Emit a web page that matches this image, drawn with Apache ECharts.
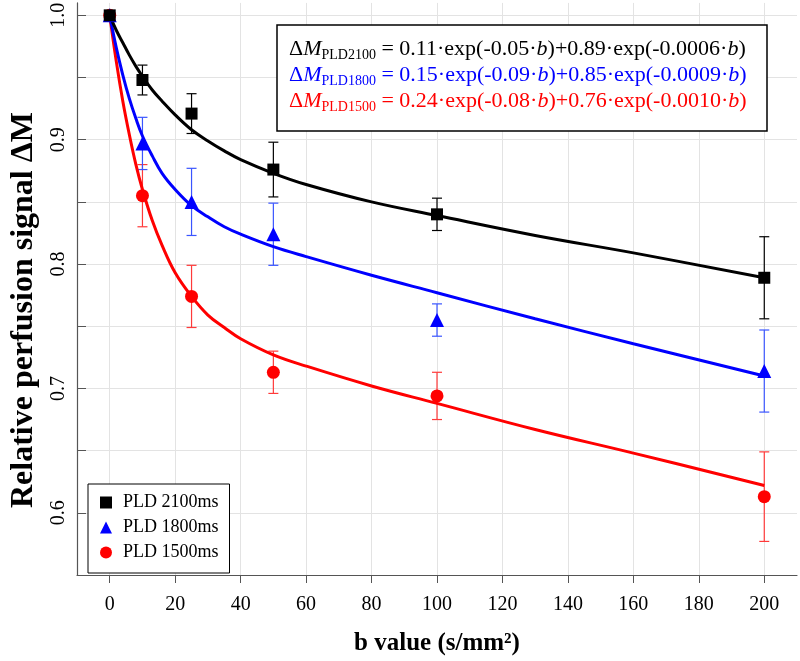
<!DOCTYPE html>
<html>
<head>
<meta charset="UTF-8">
<title>Relative perfusion signal</title>
<script src="https://cdn.jsdelivr.net/npm/echarts@6/dist/echarts.min.js"></script>
<style>
html, body { margin: 0; padding: 0; background: #fff; }
#main { width: 800px; height: 661px; }
</style>
</head>
<body>
<div id="main"></div>
<script>
// measured points (b value, mean, +/- error)
var bValues = [0, 10, 25, 50, 100, 200];
var mean2100 = [1.000, 0.948, 0.921, 0.876, 0.840, 0.789];
var err2100 = [0, 0.012, 0.016, 0.022, 0.013, 0.033];
var mean1800 = [1.000, 0.897, 0.850, 0.824, 0.755, 0.714];
var err1800 = [0, 0.021, 0.027, 0.025, 0.013, 0.033];
var mean1500 = [1.000, 0.855, 0.774, 0.713, 0.694, 0.613];
var err1500 = [0, 0.025, 0.025, 0.017, 0.019, 0.036];

// fitted curves
var fitB = [0, 2, 4, 6, 8, 10, 13, 16, 20, 25, 30, 35, 40, 50, 60, 80, 100, 130, 160, 200];
var fit2100 = [1.000, 0.988, 0.978, 0.968, 0.959, 0.951, 0.940, 0.931, 0.920, 0.908, 0.899, 0.891, 0.884, 0.873, 0.864, 0.850, 0.839, 0.823, 0.809, 0.789];
var fit1800 = [1.000, 0.974, 0.952, 0.933, 0.917, 0.903, 0.887, 0.873, 0.860, 0.847, 0.838, 0.830, 0.824, 0.814, 0.806, 0.791, 0.777, 0.756, 0.736, 0.710];
var fit1500 = [1.000, 0.963, 0.931, 0.904, 0.880, 0.860, 0.835, 0.815, 0.793, 0.774, 0.759, 0.749, 0.740, 0.727, 0.718, 0.702, 0.688, 0.667, 0.648, 0.622];

var xTicks = [0, 20, 40, 60, 80, 100, 120, 140, 160, 180, 200];
var yTicks = [0.55, 0.6, 0.65, 0.7, 0.75, 0.8, 0.85, 0.9, 0.95, 1.0];
var yLabels = [0.6, 0.7, 0.8, 0.9, 1.0];

var names = ['PLD 2100ms', 'PLD 1800ms', 'PLD 1500ms'];
var colors = ['#000000', '#0000ff', '#ff0000'];
var barColors = ['#000000', '#3a55ff', '#ff3a3a'];
var serif = 'Liberation Serif';

function pairs(xs, ys) {
	var out = [];
	for (var i = 0; i < xs.length; i++) out.push([xs[i], ys[i]]);
	return out;
}
function bars(xs, m, e) {
	var out = [];
	for (var i = 0; i < xs.length; i++) out.push([xs[i], m[i] - e[i], m[i] + e[i]]);
	return out;
}
function errorBar(color) {
	return function (params, api) {
		var x = api.value(0), lo = api.value(1), hi = api.value(2);
		if (hi - lo < 1e-6) return;
		var p1 = api.coord([x, hi]), p2 = api.coord([x, lo]);
		var w = 5;
		var st = { stroke: color, lineWidth: 1.2 };
		return {
			type: 'group',
			children: [
				{ type: 'line', shape: { x1: p1[0], y1: p1[1], x2: p2[0], y2: p2[1] }, style: st },
				{ type: 'line', shape: { x1: p1[0] - w, y1: p1[1], x2: p1[0] + w, y2: p1[1] }, style: st },
				{ type: 'line', shape: { x1: p2[0] - w, y1: p2[1], x2: p2[0] + w, y2: p2[1] }, style: st }
			]
		};
	};
}

// equation text lines
function eqRich(color) {
	return {
		d: { fontFamily: serif, fontSize: 22, fill: color, lineHeight: 26 },
		m: { fontFamily: serif, fontSize: 22, fontStyle: 'italic', fill: color, lineHeight: 26 },
		s: { fontFamily: serif, fontSize: 14, fill: color, lineHeight: 14, verticalAlign: 'bottom' },
		n: { fontFamily: serif, fontSize: 22, fill: color, lineHeight: 26 },
		i: { fontFamily: serif, fontSize: 22, fontStyle: 'italic', fill: color, lineHeight: 26 }
	};
}
var eqTexts = [
	'{d|Δ}{m|M}{s|PLD2100}{n| = 0.11·exp(-0.05·}{i|b}{n|)+0.89·exp(-0.0006·}{i|b}{n|)}',
	'{d|Δ}{m|M}{s|PLD1800}{n| = 0.15·exp(-0.09·}{i|b}{n|)+0.85·exp(-0.0009·}{i|b}{n|)}',
	'{d|Δ}{m|M}{s|PLD1500}{n| = 0.24·exp(-0.08·}{i|b}{n|)+0.76·exp(-0.0010·}{i|b}{n|)}'
];
var eqY = [49, 75, 101];

var graphics = [{
	type: 'rect', z: 100,
	shape: { x: 277, y: 25, width: 490, height: 106 },
	style: { fill: '#fff', stroke: '#000', lineWidth: 1.5 }
}];
for (var k = 0; k < 3; k++) {
	graphics.push({
		type: 'text', z: 101, x: 289, y: eqY[k],
		style: { text: eqTexts[k], rich: eqRich(colors[k]), align: 'left', verticalAlign: 'middle' }
	});
}
// y axis title
graphics.push({
	type: 'text', z: 101, x: 24, y: 310, rotation: Math.PI / 2,
	style: {
		text: 'Relative perfusion signal ΔM', fill: '#000',
		font: 'bold 32px "Liberation Serif"', align: 'center', verticalAlign: 'middle'
	}
});

var chart = echarts.init(document.getElementById('main'));

var series = [];
var means = [mean2100, mean1800, mean1500];
var errs = [err2100, err1800, err1500];
var fits = [fit2100, fit1800, fit1500];
var symbols = ['rect', 'triangle', 'circle'];
var sizes = [12, 14, 13];
for (var s = 2; s >= 0; s--) {
	series.push({
		name: names[s] + ' err', type: 'custom', z: 2,
		renderItem: errorBar(barColors[s]),
		encode: { x: 0, y: [1, 2] },
		data: bars(bValues, means[s], errs[s])
	});
	series.push({
		name: names[s] + ' fit', type: 'line', z: 3,
		showSymbol: false, silent: true,
		smooth: 0.4,
		lineStyle: { color: colors[s], width: 3 },
		data: pairs(fitB, fits[s])
	});
}
for (var s2 = 2; s2 >= 0; s2--) {
	series.push({
		name: names[s2], type: 'scatter', z: 5,
		symbol: symbols[s2], symbolSize: sizes[s2],
		itemStyle: { color: colors[s2], opacity: 1 },
		data: pairs(bValues, means[s2])
	});
}

var option = {
	backgroundColor: '#fff',
	animation: false,
	grid: { left: 77, right: 3, top: 1, bottom: 79 },
	xAxis: {
		type: 'value', min: -10, max: 210,
		name: 'b value (s/mm²)', nameLocation: 'middle', nameGap: 56,
		nameTextStyle: { fontFamily: serif, fontWeight: 'bold', fontSize: 25, color: '#000' },
		axisLine: { onZero: false, lineStyle: { color: '#555', width: 1.2 } },
		axisTick: { customValues: xTicks, length: 8, lineStyle: { color: '#555' } },
		axisLabel: { customValues: xTicks, margin: 20, fontFamily: serif, fontSize: 20, color: '#000' },
		splitLine: { show: true, lineStyle: { color: '#e3e3e3', width: 1 } }
	},
	yAxis: {
		type: 'value', min: 0.55, max: 1.01,
		axisLine: { show: true, onZero: false, lineStyle: { color: '#555', width: 1.2 } },
		axisTick: { customValues: yTicks, inside: true, length: 9, lineStyle: { color: '#555' } },
		axisLabel: {
			customValues: yLabels, rotate: 90, margin: 8,
			fontFamily: serif, fontSize: 20, color: '#000',
			formatter: function (v) { return v.toFixed(1); }
		},
		splitLine: { show: true, lineStyle: { color: '#e3e3e3', width: 1 } }
	},
	legend: {
		orient: 'vertical', left: 88, top: 484,
		data: [
			{ name: names[0], icon: 'rect' },
			{ name: names[1], icon: 'triangle' },
			{ name: names[2], icon: 'circle' }
		],
		itemWidth: 12, itemHeight: 12, itemGap: 0,
		padding: [6, 11, 8, 12],
		backgroundColor: '#fff', borderColor: '#000', borderWidth: 1,
		selectedMode: false,
		textStyle: { fontFamily: serif, fontSize: 18, color: '#000', lineHeight: 25, padding: [0, 0, 0, 6] }
	},
	graphic: graphics,
	series: series
};
chart.setOption(option);
</script>
</body>
</html>
